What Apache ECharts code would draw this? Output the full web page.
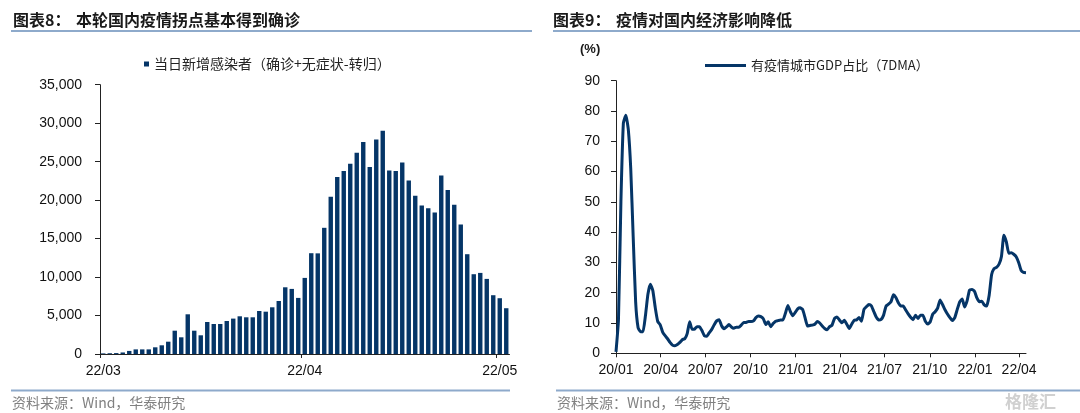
<!DOCTYPE html>
<html>
<head>
<meta charset="utf-8">
<script src="https://cdn.jsdelivr.net/npm/echarts@6/dist/echarts.min.js"></script>
<style>
html,body{margin:0;padding:0;background:#fff;}
#c{width:1080px;height:413px;}
</style>
</head>
<body>
<div id="c"></div>
<script>
// ---------- Left chart data ----------
const barStart = [2022, 2, 1];          // 2022-03-01, daily categories
const barValues = [80,100,120,200,400,600,600,600,870,1130,1600,3030,2170,5160,3030,2430,4160,3900,3900,4290,4600,4900,4770,4770,5590,5500,6070,6890,8670,8460,7290,9890,13100,13080,16400,20430,23000,23770,24720,26150,27540,24290,27890,29000,23850,23770,24890,22550,20560,19300,18950,18390,23200,21300,19390,16820,12970,10370,10540,9760,7640,7250,5950];
const barName = '当日新增感染者（确诊+无症状-转归）';
const barTickDays = ['2022-03-01','2022-04-01','2022-05-01'];

// ---------- Right chart data ----------
const lineStart = [2020, 0, 1];         // readings every 5 days
const lineStepDays = 5;
const lineValues = [
0.5,11,50,76,78.6,74,61,38.5,17,8.4,
7.1,7.1,12.5,19.5,22.8,20.7,15,10.5,9.4,7,
5.8,4.8,3.6,2.7,2.5,2.9,3.6,4.5,4.8,6.5,
10.4,7.9,8,8.8,8.8,7.5,5.8,5.6,6.8,7.9,
9.4,10.7,11.1,9.1,8.1,8.7,9.5,8.7,8.3,8.6,
8.6,9.3,10.2,10.2,10.5,10.5,10.7,11.8,12.3,12.1,
11.4,9.5,10.4,8.8,9.8,10.6,10.8,11,11,13.2,
15.8,13.8,12.4,13.5,14.7,15,14.5,11.8,9,9.2,
9.3,9.6,10.5,10,9,8.2,7.8,8.8,9.3,11.5,
12,11,10.1,10.9,9.6,8.2,9.6,10.9,11,11.8,
10.6,14.5,15.4,16.1,15.7,13.8,12,11,11.2,12.6,
15.6,16.2,17,19.3,18.4,16.7,15.6,15.6,14.3,13,
11.9,11.1,12.6,11.5,12.6,12.6,10.6,9.7,10.4,12.9,
13.7,14.9,17.6,16.1,14.4,13,11.8,10.8,11.8,14.5,
17,17.9,15.3,17.3,20.9,21.1,20.5,18.3,17,17.2,
16,15.6,19.2,26,28,28.4,29.4,32,39,36.8,
33,33.2,32.7,31.9,30,27.4,26.7,26.6];
const lineName = '有疫情城市GDP占比（7DMA）';
const lineTickLabels = ['20/01','20/04','20/07','20/10','21/01','21/04','21/07','21/10','22/01','22/04'];

// ---------- build ----------
function pad(n){return String(n).padStart(2,'0');}
const barCats = barValues.map((v,i)=>{
  const d = new Date(barStart[0], barStart[1], barStart[2]+i);
  return d.getFullYear()+'-'+pad(d.getMonth()+1)+'-'+pad(d.getDate());
});
const barTickIdx = barTickDays.map(s=>barCats.indexOf(s));
const lineData = lineValues.map((v,i)=>[new Date(lineStart[0], lineStart[1], lineStart[2]+i*lineStepDays).getTime(), v]);
const lineTicks = lineTickLabels.map(s=>{const p=s.split('/');return new Date(2000+Number(p[0]), Number(p[1])-1, 1).getTime();});
const lineMin = lineData[0][0], lineMax = lineData[lineData.length-1][0];

const NUM = '"Liberation Sans", Arial, sans-serif';
const CJK = '"Noto Sans CJK SC", sans-serif';
const axisCol = '#222';
const navy = '#053567';

const chart = echarts.init(document.getElementById('c'));
chart.setOption({
  animation:false,
  backgroundColor:'#fff',
  grid:[
    {left:100, top:84.7, width:409.5, height:269.3},
    {left:616, top:80.7, width:410, height:272.6}
  ],
  legend:[
    {left:139, top:52, icon:'rect', itemWidth:5, itemHeight:5, data:[barName],
     textStyle:{fontSize:14, color:'#222', fontFamily:CJK}, selectedMode:false},
    {left:700, top:54, icon:'rect', itemWidth:41, itemHeight:3, data:[lineName],
     textStyle:{fontSize:13, color:'#222', fontFamily:CJK}, selectedMode:false}
  ],
  xAxis:[
    {type:'category', gridIndex:0, data:barCats, boundaryGap:true,
     axisLine:{lineStyle:{color:axisCol}},
     axisTick:{show:false},
     axisLabel:{interval:(i)=>barTickIdx.indexOf(i)>=0, margin:10, fontSize:14, color:'#111', fontFamily:NUM,
       formatter:(v)=>v.slice(2,4)+'/'+v.slice(5,7)},
     splitLine:{show:false}},
    {type:'value', gridIndex:0, min:0, max:barCats.length, position:'bottom',
     axisLine:{show:false},
     axisTick:{show:true, length:4, lineStyle:{color:axisCol}, customValues:barTickIdx},
     axisLabel:{show:false}, splitLine:{show:false}},
    {type:'value', gridIndex:1, min:lineMin, max:lineMax, scale:true,
     axisLine:{lineStyle:{color:axisCol}},
     axisTick:{show:true, length:4, lineStyle:{color:axisCol}, customValues:lineTicks},
     axisLabel:{customValues:lineTicks, margin:10, fontSize:14, color:'#111', fontFamily:NUM,
       formatter:(v)=>{const d=new Date(v);return String(d.getFullYear()).slice(2)+'/'+pad(d.getMonth()+1);}},
     splitLine:{show:false}}
  ],
  yAxis:[
    {type:'value', gridIndex:0, min:0, max:35000, interval:5000,
     axisLine:{show:true, lineStyle:{color:axisCol}},
     axisTick:{show:true, length:5, lineStyle:{color:axisCol}},
     axisLabel:{margin:18, fontSize:14, color:'#111', fontFamily:NUM,
       formatter:(v)=>v.toLocaleString('en-US')},
     splitLine:{show:false}},
    {type:'value', gridIndex:1, min:0, max:90, interval:10,
     axisLine:{show:true, lineStyle:{color:axisCol}},
     axisTick:{show:true, length:5, lineStyle:{color:axisCol}},
     axisLabel:{margin:16, fontSize:14, color:'#111', fontFamily:NUM},
     splitLine:{show:false}}
  ],
  series:[
    {name:barName, type:'bar', xAxisIndex:0, yAxisIndex:0, data:barValues, barWidth:4.4,
     itemStyle:{color:navy}},
    {name:lineName, type:'line', xAxisIndex:2, yAxisIndex:1, data:lineData, showSymbol:false,
     smooth:0.15, itemStyle:{color:navy}, lineStyle:{color:navy, width:3}}
  ],
  graphic:[
    {type:'text', style:{x:13, y:20, text:'图表8：', font:'bold 16px '+CJK, fill:'#1a1a1a', verticalAlign:'middle'}},
    {type:'text', style:{x:76, y:20, text:'本轮国内疫情拐点基本得到确诊', font:'bold 16px '+CJK, fill:'#1a1a1a', verticalAlign:'middle'}},
    {type:'text', style:{x:553, y:20, text:'图表9：', font:'bold 16px '+CJK, fill:'#1a1a1a', verticalAlign:'middle'}},
    {type:'text', style:{x:616, y:20, text:'疫情对国内经济影响降低', font:'bold 16px '+CJK, fill:'#1a1a1a', verticalAlign:'middle'}},
    {type:'line', shape:{x1:11, y1:31, x2:532, y2:31}, style:{stroke:'#8eaacb', lineWidth:2}},
    {type:'line', shape:{x1:553, y1:31, x2:1080, y2:31}, style:{stroke:'#8eaacb', lineWidth:2}},
    {type:'line', shape:{x1:11, y1:390.5, x2:510, y2:390.5}, style:{stroke:'#8eaacb', lineWidth:2}},
    {type:'line', shape:{x1:556, y1:390.5, x2:1080, y2:390.5}, style:{stroke:'#8eaacb', lineWidth:2}},
    {type:'text', style:{x:12, y:402.5, text:'资料来源：Wind，华泰研究', font:'14px '+CJK, fill:'#808080', verticalAlign:'middle'}},
    {type:'text', style:{x:557, y:402.5, text:'资料来源：Wind，华泰研究', font:'14px '+CJK, fill:'#808080', verticalAlign:'middle'}},
    {type:'text', style:{x:580, y:49, text:'(%)', font:'bold 13px '+NUM, fill:'#1a1a1a', verticalAlign:'middle'}},
    {type:'text', style:{x:1005, y:402, text:'格隆汇', font:'bold 17px '+CJK, fill:'#d0d0d0', verticalAlign:'middle'}}
  ]
});
</script>
</body>
</html>
